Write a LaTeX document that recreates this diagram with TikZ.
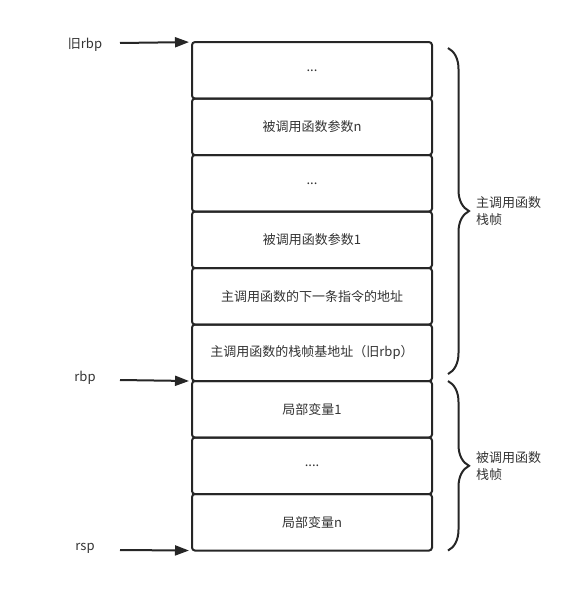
\documentclass[tikz,border=0pt]{standalone}
\usepackage{fontspec}
\newfontfamily\cjk{Noto Sans CJK SC}
\usetikzlibrary{arrows.meta, positioning, decorations.pathreplacing}
\definecolor{inkgray}{HTML}{333333}
\definecolor{linegray}{HTML}{262626}
\tikzset{
  >={Triangle[length=14pt,width=10pt]}, % filled arrow heads
  every node/.style={font=\cjk\fontsize{13}{17}\selectfont, text=inkgray},
  cell/.style={draw=linegray, line width=2pt, rounded corners=3pt,
    minimum width=240pt, minimum height=56.5pt, outer sep=0pt,
    inner sep=0pt}, % one slot of the stack
  pointer/.style={->, draw=linegray, line width=2pt, shorten >=3pt},
  brace/.style={draw=linegray, line width=2pt,
    decorate, decoration={brace, amplitude=21pt}},
}

\begin{document}
\begin{tikzpicture}[x=1pt, y=-1pt]
    \useasboundingbox (0,0) rectangle (580,591);

    % the stack, top to bottom
    \node[cell] (slot_0) at (312,70.3) {...};
    \node[cell, below=0pt of slot_0] (slot_1) {被调用函数参数n};
    \node[cell, below=0pt of slot_1] (slot_2) {...};
    \node[cell, below=0pt of slot_2] (slot_3) {被调用函数参数1};
    \node[cell, below=0pt of slot_3] (slot_4) {主调用函数的下一条指令的地址};
    \node[cell, below=0pt of slot_4] (slot_5) {主调用函数的栈帧基地址（旧rbp）};
    \node[cell, below=0pt of slot_5] (slot_6) {局部变量1};
    \node[cell, below=0pt of slot_6] (slot_7) {....};
    \node[cell, below=0pt of slot_7] (slot_8) {局部变量n};

    % registers on the left
    \node (old_rbp) at (85,45) {旧rbp};
    \node (rbp) at (85,378) {rbp};
    \node (rsp) at (85,548) {rsp};
    \coordinate (from_old) at (120,43);
    \coordinate (from_rbp) at (120,380);
    \coordinate (from_rsp) at (120,550);

    \draw[pointer] (from_old) -- (slot_0.north west);
    \draw[pointer] (from_rbp) -- (slot_6.north west);
    \draw[pointer] (from_rsp) -- (slot_8.south west);

    % frames on the right
    \draw[brace] ([xshift=16pt,yshift=-6pt]slot_0.north east)
      -- ([xshift=16pt,yshift=7pt]slot_5.south east)
      node[midway, right=27pt, inner sep=0pt, align=left] {主调用函数\\栈帧};
    \draw[brace] ([xshift=16pt]slot_6.north east)
      -- ([xshift=16pt]slot_8.south east)
      node[midway, right=27pt, inner sep=0pt, align=left] {被调用函数\\栈帧};
\end{tikzpicture}
\end{document}
